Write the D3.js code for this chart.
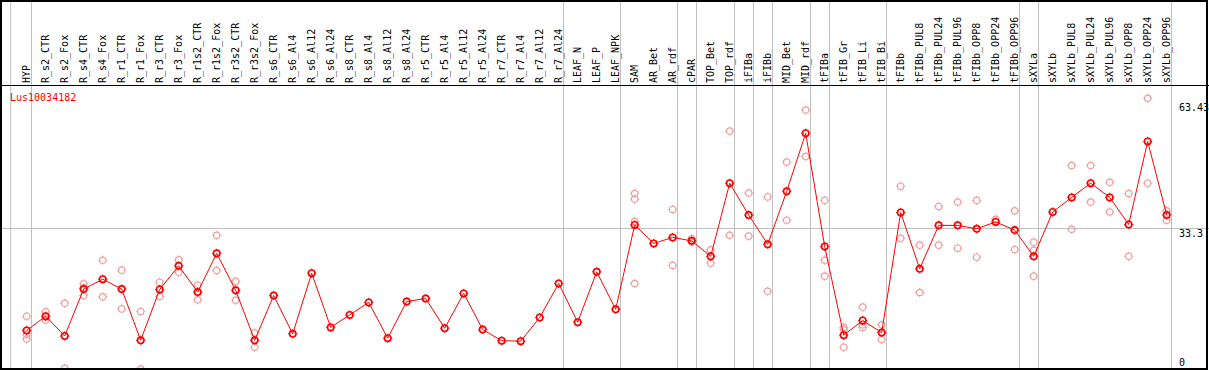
<!DOCTYPE html>
<html>
<head>
<meta charset="utf-8">
<script src="https://cdn.jsdelivr.net/npm/d3@7"></script>
<style>
  html, body { margin: 0; padding: 0; background: #fff; }
  svg { display: block; }
  text { font-family: "DejaVu Sans Mono", "Liberation Mono", monospace; font-size: 10px; }
</style>
</head>
<body>
<script>
const geneName = "Lus10034182";

const categories = [
  "HYP","R_s2_CTR","R_s2_Fox","R_s4_CTR","R_s4_Fox","R_r1_CTR","R_r1_Fox","R_r3_CTR","R_r3_Fox",
  "R_r1s2_CTR","R_r1s2_Fox","R_r3s2_CTR","R_r3s2_Fox","R_s6_CTR","R_s6_Al4","R_s6_Al12","R_s6_Al24",
  "R_s8_CTR","R_s8_Al4","R_s8_Al12","R_s8_Al24","R_r5_CTR","R_r5_Al4","R_r5_Al12","R_r5_Al24",
  "R_r7_CTR","R_r7_Al4","R_r7_Al12","R_r7_Al24","LEAF_N","LEAF_P","LEAF_NPK","SAM","AR_Bet","AR_rdf",
  "cPAR","TOP_Bet","TOP_rdf","iFIBa","iFIBb","MID_Bet","MID_rdf","tFIBa","tFIB_Gr","tFIB_Li","tFIB_Bi",
  "tFIBb","tFIBb_PUL8","tFIBb_PUL24","tFIBb_PUL96","tFIBb_OPP8","tFIBb_OPP24","tFIBb_OPP96",
  "sXYLa","sXYLb","sXYLb_PUL8","sXYLb_PUL24","sXYLb_PUL96","sXYLb_OPP8","sXYLb_OPP24","sXYLb_OPP96"
];

const groupSizes = [1, 28, 3, 3, 1, 2, 1, 1, 2, 1, 3, 7, 1, 7];

const meanValues = [
  9.5, 12.8, 8.2, 19.1, 21.4, 19.1, 7.2, 19.0, 24.5,
  18.4, 27.4, 18.8, 7.2, 17.6, 8.7, 22.8, 10.2,
  13.1, 16.0, 7.7, 16.2, 16.9, 10.0, 18.1, 9.7,
  7.1, 7.0, 12.5, 20.4, 11.4, 23.1, 14.4, 34.0, 29.7, 31.1,
  30.3, 26.7, 43.7, 36.3, 29.5, 41.8, 55.3, 29.0, 8.4, 11.8, 9.0,
  36.9, 23.8, 33.9, 33.9, 33.1, 34.7, 32.8,
  26.7, 37.0, 40.4, 43.7, 40.4, 34.1, 53.4, 36.3
];

const replicateValues = [
  [12.8, 8.6, 7.5], [13.8, 11.9, 12.6], [15.8, 0.7], [20.3, 17.6, 19.4], [25.8, 17.3],
  [23.5, 14.5], [13.9, 0.5], [20.7, 17.4], [25.9, 23.0],
  [20.0, 16.6], [31.6, 23.4], [20.9, 16.5], [8.9, 5.6], [], [], [], [],
  [], [], [], [], [], [], [], [],
  [], [], [], [], [], [], [], [41.3, 40.0, 34.8, 20.4], [], [37.6, 24.6],
  [30.8, 30.1], [28.2, 25.1], [55.8, 31.6], [41.4, 31.4], [40.5, 18.6], [48.6, 35.1], [60.7, 49.9],
  [39.7, 25.8, 22.1], [10.2, 9.7, 5.6], [14.9, 10.2, 10.8], [10.8, 7.4],
  [43.0, 30.9], [29.3, 18.3], [38.3, 29.3], [39.3, 28.6], [39.7, 26.5], [35.3], [37.3, 28.3],
  [30.0, 28.1, 22.1], [], [47.8, 33.0], [47.8, 39.3], [43.9, 37.0], [41.3, 26.7], [63.43, 43.7], [37.3, 35.1]
];

const yTickValues = [63.43, 33.3, 0];
const yTickLabels = ["63.43", "33.3", "0"];

const W = 1209, H = 370;
const headerBottom = 85;

const svg = d3.select("body").append("svg").attr("width", W).attr("height", H);
svg.append("rect").attr("width", W).attr("height", H).attr("fill", "#fff");

const x = d3.scalePoint().domain(categories).range([26.7, 1166.7]);
const y = d3.scaleLinear().domain([0, 66.6]).range([371.3, 84.6]);

// clip for plot area
svg.append("defs").append("clipPath").attr("id", "plotclip")
  .append("rect").attr("x", 1).attr("y", headerBottom + 1).attr("width", 1206).attr("height", 368 - headerBottom);

// group separators
const sepIdx = [];
let acc = 0;
groupSizes.forEach(s => { acc += s; sepIdx.push(acc - 1); });
const grid = svg.append("g").attr("stroke", "#c0c0c0").attr("stroke-width", 1);
grid.append("line").attr("x1", x(categories[0]) - 16).attr("x2", x(categories[0]) - 16)
  .attr("y1", 0).attr("y2", H);
sepIdx.forEach(i => {
  const xx = Math.round(x(categories[i]) + 3.8) + 0.5;
  grid.append("line").attr("x1", xx).attr("x2", xx).attr("y1", 0).attr("y2", H);
});
// horizontal reference at 33.3
grid.append("line").attr("x1", 0).attr("x2", W)
  .attr("y1", Math.round(y(33.3)) + 0.5).attr("y2", Math.round(y(33.3)) + 0.5);

// header labels
svg.append("g").selectAll("text").data(categories).join("text")
  .attr("transform", d => `translate(${x(d) + 3.5},${headerBottom - 2}) rotate(-90)`)
  .attr("fill", "#000")
  .text(d => d);

// header line
svg.append("line").attr("x1", 0).attr("x2", W).attr("y1", headerBottom + 0.5).attr("y2", headerBottom + 0.5)
  .attr("stroke", "#000").attr("stroke-width", 1.2);

// gene name
svg.append("text").attr("x", 10).attr("y", 101).attr("fill", "#ff0000").text(geneName);

// y labels
svg.append("g").selectAll("text").data(yTickValues).join("text")
  .attr("x", 1179)
  .attr("y", v => Math.min(Math.max(y(v) + 9, 111), 366))
  .attr("fill", "#000")
  .text((v, i) => yTickLabels[i]);

const plot = svg.append("g").attr("clip-path", "url(#plotclip)");

function marker(g, cx, cy, color, sw) {
  g.append("circle").attr("cx", cx).attr("cy", cy).attr("r", 3.2)
    .attr("fill", "none").attr("stroke", color).attr("stroke-width", sw);
  const t = [[0, -1], [0, 1], [-1, 0], [1, 0]];
  t.forEach(([dx, dy]) => {
    g.append("line")
      .attr("x1", cx + dx * 3.2).attr("y1", cy + dy * 3.2)
      .attr("x2", cx + dx * 4.6).attr("y2", cy + dy * 4.6)
      .attr("stroke", color).attr("stroke-width", 1);
  });
}

// replicate points
const repG = plot.append("g");
categories.forEach((c, i) => {
  replicateValues[i].forEach(v => marker(repG, x(c), y(v), "#f0a0a0", 1.2));
});

// mean line
plot.append("path")
  .datum(meanValues)
  .attr("fill", "none").attr("stroke", "#ff0000").attr("stroke-width", 1)
  .attr("d", d3.line().x((d, i) => x(categories[i])).y(d => y(d)));

// mean points
const meanG = plot.append("g");
categories.forEach((c, i) => marker(meanG, x(c), y(meanValues[i]), "#ff0000", 1.6));

// frame
svg.append("rect").attr("x", 1).attr("y", 1).attr("width", 1206).attr("height", 368)
  .attr("fill", "none").attr("stroke", "#000").attr("stroke-width", 2);
</script>
</body>
</html>
